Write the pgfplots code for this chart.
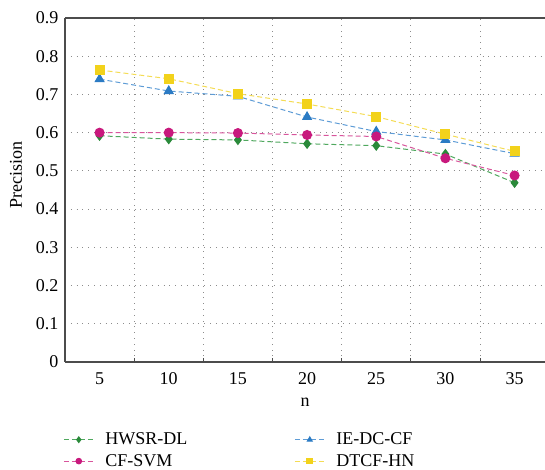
\documentclass[border=0pt]{standalone}
\usepackage{fontspec}
\setmainfont{Liberation Serif}
\usepackage{pgfplots}
\pgfplotsset{compat=1.18}

\definecolor{cgreen}{HTML}{2A8A3A}
\definecolor{cgreenl}{HTML}{4FA85E}
\definecolor{cmag}{HTML}{C8197D}
\definecolor{cmagl}{HTML}{D8559C}
\definecolor{cblue}{HTML}{2B7BC4}
\definecolor{cbluel}{HTML}{5E9CD6}
\definecolor{cyel}{HTML}{F2D21B}
\definecolor{cyell}{HTML}{F4DC55}

\begin{document}
\begin{tikzpicture}
\begin{axis}[
    scale only axis,
    width=480pt, height=344pt,
    xmin=2.5, xmax=37.2,
    ymin=0, ymax=0.9,
    axis x line*=bottom, axis y line*=left,
    axis line style={-, draw=black!70, line width=1.1pt},
    xtick={5,10,...,35},
    xticklabels={5,10,15,20,25,30,35},
    major x tick style={draw=none},
    minor xtick={7.5,12.5,...,32.5},
    minor x tick style={draw=black!70, line width=0.8pt},
    minor tick length=4pt,
    xminorgrids=true,
    ytick={0,0.1,...,0.9},
    yticklabels={0,0.1,0.2,0.3,0.4,0.5,0.6,0.7,0.8,0.9},
    ymajorgrids=true,
    major y tick style={draw=none},
    grid style={draw=black!45, line width=0.8pt, dash pattern=on 0.8pt off 5pt},
    minor grid style={draw=black!45, line width=0.8pt, dash pattern=on 0.8pt off 5pt},
    tick align=inside,
    ticklabel style={font=\fontsize{18}{21}\selectfont},
    xticklabel style={yshift=-7pt},
    yticklabel style={xshift=-3pt},
    label style={font=\fontsize{18}{21}\selectfont},
    xlabel={n},
    xlabel style={yshift=-6pt},
    ylabel={Precision},
    ylabel style={at={(ticklabel cs:0.545)}, yshift=7pt},
    legend columns=2,
    legend cell align=left,
    legend style={draw=none, fill=none, inner sep=0pt,
        at={(-0.004,-0.2)}, anchor=north west,
        font=\fontsize{18}{21}\selectfont, row sep=4pt,
        /tikz/every odd column/.append style={column sep=9pt},
        /tikz/every even column/.append style={column sep=105pt}},
    legend image code/.code={
        \draw[#1, mark size=2.8pt, mark repeat=2, mark phase=2]
            plot coordinates {(0pt,0pt) (15pt,0pt) (30pt,0pt)};},
    every axis plot/.append style={line width=1pt, dash pattern=on 5pt off 3pt},
]
\addplot[cgreenl, mark=diamond*, mark size=4.5pt,
    mark options={solid, fill=cgreen, draw=cgreen}]
    coordinates {(5,0.592) (10,0.583) (15,0.581) (20,0.571) (25,0.566) (30,0.544) (35,0.469)};
\addlegendentry{HWSR-DL}
\addplot[cbluel, mark=triangle*, mark size=5pt,
    mark options={solid, fill=cblue, draw=cblue}]
    coordinates {(5,0.740) (10,0.709) (15,0.695) (20,0.641) (25,0.603) (30,0.581) (35,0.545)};
\addlegendentry{IE-DC-CF}
\addplot[cmagl, mark=*, mark size=4.5pt,
    mark options={solid, fill=cmag, draw=cmag}]
    coordinates {(5,0.600) (10,0.600) (15,0.599) (20,0.594) (25,0.590) (30,0.533) (35,0.488)};
\addlegendentry{CF-SVM}
\addplot[cyell, mark=square*, mark size=4.5pt,
    mark options={solid, fill=cyel, draw=cyel}]
    coordinates {(5,0.764) (10,0.741) (15,0.702) (20,0.675) (25,0.642) (30,0.596) (35,0.551)};
\addlegendentry{DTCF-HN}
\draw[black!70, line width=1.1pt] (rel axis cs:0,1) -- (rel axis cs:1,1);
\coordinate (bl) at (rel axis cs:0,0);
\coordinate (tr) at (rel axis cs:1,1);
\end{axis}
\pgfresetboundingbox
\path ([shift={(-65pt,-108pt)}]bl) rectangle ([shift={(0pt,18pt)}]tr);
\end{tikzpicture}
\end{document}
